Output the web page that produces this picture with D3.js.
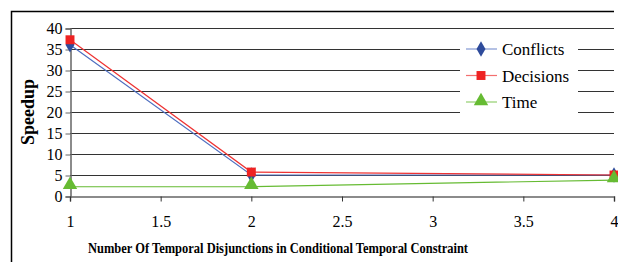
<!DOCTYPE html>
<meta charset="utf-8">
<script src="https://d3js.org/d3.v7.min.js"></script>
<style>
  body { margin: 0; background: #fff; }
</style>
<div id="chart"></div>
<script>
// values
var xValues = [1, 2, 4];
var conflicts = [36.0, 5.0, 5.0];
var decisions = [37.2, 5.7, 5.0];
var times = [2.2, 2.2, 3.8];
var xTicks = [1, 1.5, 2, 2.5, 3, 3.5, 4];
var yTicks = [0, 5, 10, 15, 20, 25, 30, 35, 40];
var seriesNames = ["Conflicts", "Decisions", "Time"];

var FONT = "'Liberation Serif', 'Times New Roman', Times, serif";
var W = 618, H = 262;
var svg = d3.select("#chart").append("svg")
  .attr("width", W).attr("height", H)
  .attr("font-family", FONT);

// outer frame (left + top edges visible)
svg.append("path")
  .attr("d", "M11.5,262 L11.5,11.5 L614,11.5")
  .attr("fill", "none").attr("stroke", "#000").attr("stroke-width", 1.5);

var x = d3.scaleLinear().domain([1, 4]).range([70, 614]);
var y = d3.scaleLinear().domain([0, 40]).range([196, 28]);

// gridlines
svg.append("g").selectAll("line")
  .data(yTicks.filter(function(d) { return d > 0; }))
  .enter().append("line")
    .attr("x1", x(1)).attr("x2", x(4))
    .attr("y1", function(d) { return y(d) + 0.5; })
    .attr("y2", function(d) { return y(d) + 0.5; })
    .attr("stroke", "#333").attr("stroke-width", 1);

// y axis
var yAxis = svg.append("g")
  .attr("transform", "translate(" + (x(1) + 0.5) + ",0.5)")
  .call(d3.axisLeft(y).tickValues(yTicks).tickSize(5).tickPadding(3).tickFormat(d3.format("d")));
yAxis.attr("font-family", FONT).attr("font-size", 16);
yAxis.select(".domain").attr("stroke", "#666").attr("stroke-width", 1.5);
yAxis.selectAll(".tick line").attr("stroke", "#666");
yAxis.selectAll("text").attr("fill", "#000");

// x axis
var xAxis = svg.append("g")
  .attr("transform", "translate(0," + (y(0) + 0.5) + ")")
  .call(d3.axisBottom(x).tickValues(xTicks).tickSize(5).tickPadding(14).tickFormat(d3.format("")));
xAxis.attr("font-family", FONT).attr("font-size", 16);
xAxis.select(".domain").attr("stroke", "#666").attr("stroke-width", 1.5);
xAxis.selectAll(".tick line").attr("stroke", "#333");
xAxis.selectAll("text").attr("fill", "#000");

// axis titles
svg.append("text")
  .attr("x", 278).attr("y", 253)
  .attr("text-anchor", "middle")
  .attr("font-size", 15).attr("font-weight", "bold")
  .attr("textLength", 380).attr("lengthAdjust", "spacingAndGlyphs")
  .text("Number Of Temporal Disjunctions in Conditional Temporal Constraint");

svg.append("text")
  .attr("transform", "translate(34,112) rotate(-90)")
  .attr("text-anchor", "middle")
  .attr("font-size", 18).attr("font-weight", "bold")
  .text("Speedup");

var series = [
  { name: seriesNames[0], values: conflicts, color: "#2e4b9b", line: "#4f6fc0", shape: d3.symbolDiamond, size: 70 },
  { name: seriesNames[1], values: decisions, color: "#ee2222", line: "#ee3333", shape: d3.symbolSquare, size: 80 },
  { name: seriesNames[2], values: times, color: "#66bb33", line: "#66bb33", shape: d3.symbolTriangle, size: 90 }
];

var line = d3.line()
  .x(function(d, i) { return x(xValues[i]); })
  .y(function(d) { return y(d); });

series.forEach(function(s) {
  svg.append("path")
    .datum(s.values)
    .attr("d", line)
    .attr("fill", "none")
    .attr("stroke", s.line)
    .attr("stroke-width", 1.2);
});

series.forEach(function(s) {
  svg.append("g").selectAll("path")
    .data(s.values)
    .enter().append("path")
      .attr("transform", function(d, i) {
        var dy = s.shape === d3.symbolTriangle ? -2 : 0;
        return "translate(" + x(xValues[i]) + "," + (y(d) + dy) + ")";
      })
      .attr("d", d3.symbol().type(s.shape).size(s.size))
      .attr("fill", s.color);
});

// legend
var legend = svg.append("g").attr("transform", "translate(460,36)");
legend.append("rect")
  .attr("width", 118).attr("height", 77)
  .attr("fill", "#fff");
series.forEach(function(s, i) {
  var g = legend.append("g").attr("transform", "translate(0," + (13 + i * 26.5) + ")");
  g.append("line").attr("x1", 6).attr("x2", 37).attr("y1", 0).attr("y2", 0)
    .attr("stroke", s.line).attr("stroke-width", 1.2).attr("opacity", 0.7);
  g.append("path")
    .attr("transform", "translate(21," + (s.shape === d3.symbolTriangle ? -1 : 0) + ")")
    .attr("d", d3.symbol().type(s.shape).size(s.size))
    .attr("fill", s.color);
  g.append("text").attr("x", 42).attr("y", 6)
    .attr("font-size", 17).text(s.name);
});
</script>
